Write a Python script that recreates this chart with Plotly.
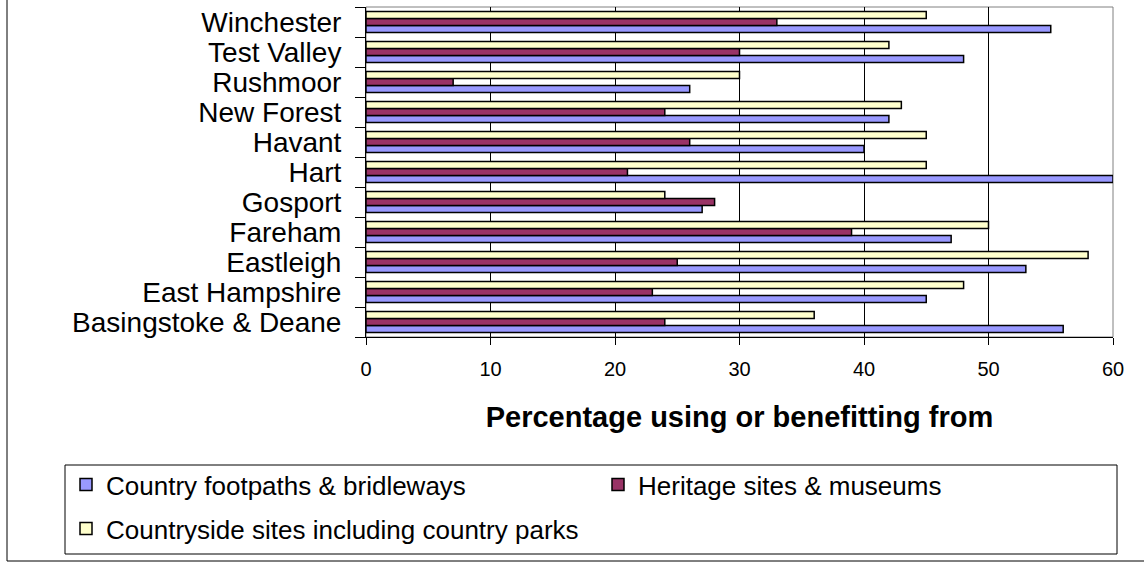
import plotly.graph_objects as go

categories = ["Basingstoke & Deane", "East Hampshire", "Eastleigh", "Fareham", "Gosport",
              "Hart", "Havant", "New Forest", "Rushmoor", "Test Valley", "Winchester"]
footpaths = [56, 45, 53, 47, 27, 60, 40, 42, 26, 48, 55]
heritage = [24, 23, 25, 39, 28, 21, 26, 24, 7, 30, 33]
countryside = [36, 48, 58, 50, 24, 45, 45, 43, 30, 42, 45]
series_names = ["Country footpaths & bridleways", "Heritage sites & museums",
                "Countryside sites including country parks"]
series_colors = ["#9999FF", "#993366", "#FFFFCC"]
series_legends = ["legend", "legend", "legend2"]
x_ticks = [0, 10, 20, 30, 40, 50, 60]

FONT = "Liberation Sans, Arial, sans-serif"

fig = go.Figure()
for name, vals, col, lg in zip(series_names, [footpaths, heritage, countryside],
                               series_colors, series_legends):
    fig.add_trace(go.Bar(
        y=categories, x=vals, name=name, orientation="h", legend=lg,
        marker=dict(color=col, line=dict(color="black", width=1.5)),
    ))

W, H = 1144, 563
L, R, T, B = 366, 31, 7, 226
pw, ph = W - L - R, H - T - B

def px(x):
    return (x - L) / pw

def py(y):
    return (H - B - y) / ph

legend_common = dict(
    orientation="h", xanchor="left", yanchor="top",
    entrywidth=487, entrywidthmode="pixels",
    font=dict(size=26, family=FONT, color="black"),
    bgcolor="rgba(0,0,0,0)", borderwidth=0, traceorder="normal",
)

fig.update_layout(
    width=W, height=H,
    margin=dict(l=L, r=R, t=T, b=B, autoexpand=False),
    paper_bgcolor="white", plot_bgcolor="white",
    barmode="group", bargap=0.3, bargroupgap=0,
    font=dict(family=FONT, color="black"),
    showlegend=True,
    legend=dict(x=px(66), y=py(461), **legend_common),
    legend2=dict(x=px(66), y=py(505), **legend_common),
    xaxis=dict(
        range=[0, 60], tickvals=x_ticks, ticktext=[str(v) for v in x_ticks],
        showgrid=True, gridcolor="black", gridwidth=1, zeroline=False,
        showline=True, linecolor="black", linewidth=1,
        ticks="outside", ticklen=7, tickcolor="black",
        tickfont=dict(size=20, family=FONT, color="black"),
        ticklabelstandoff=7,
        title=dict(text="<b>Percentage using or benefitting from</b>",
                   font=dict(size=29, family=FONT, color="black"), standoff=27),
        fixedrange=True,
    ),
    yaxis=dict(
        type="category", categoryorder="array", categoryarray=categories,
        tickmode="array", tickvals=categories, ticktext=categories,
        showgrid=False, zeroline=False,
        showline=True, linecolor="black", linewidth=1,
        ticks="outside", ticklen=10, tickcolor="black", tickson="boundaries",
        tickfont=dict(size=28, family=FONT, color="black"),
        ticklabelstandoff=18,
        fixedrange=True,
    ),
    shapes=[
        dict(type="rect", xref="paper", yref="paper", x0=0, x1=1, y0=0, y1=1,
             line=dict(color="#808080", width=1), layer="below"),
        dict(type="rect", xref="paper", yref="paper", x0=px(65), x1=px(1117),
             y0=py(554), y1=py(465), line=dict(color="black", width=1)),
        dict(type="rect", xref="paper", yref="paper", x0=px(7), x1=px(1160),
             y0=py(561), y1=py(-20), line=dict(color="black", width=1)),
    ],
)

fig.write_html("out.html", config={"displayModeBar": False},
               post_script="document.body.style.margin='0';")
